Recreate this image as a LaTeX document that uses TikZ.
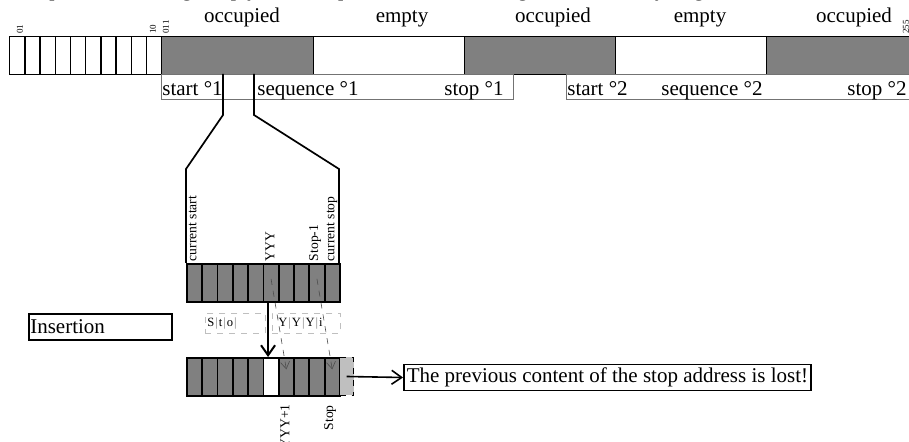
\documentclass[tikz,border=0pt]{standalone}
\usepackage{fontspec}
\setmainfont{Liberation Serif}
\usepackage{xcolor}
\usepackage{tikz}
\usetikzlibrary{calc, positioning, arrows.meta}
\tikzset{every node/.append style={font=\fontsize{10.5}{12}\selectfont}}
\tikzset{
  stripcell/.style={draw, line width=0.7pt, fill=white, minimum width=7.6pt, minimum height=19pt, inner sep=0pt, anchor=north west},
  segment/.style={draw, line width=0.7pt, minimum width=75.75pt, minimum height=19pt, inner sep=0pt, anchor=north west},
  seqbox/.style={draw=black!55, line width=0.5pt, minimum height=12.5pt, inner sep=0pt, anchor=north west},
  rowcell/.style={draw, line width=0.9pt, fill=gray, minimum width=7.65pt, minimum height=19pt, inner sep=0pt, anchor=north west},
  tag/.style={rotate=90, inner sep=0pt, font=\fontsize{6.8}{7}\selectfont},
  addr/.style={rotate=90, inner sep=0pt, anchor=west, font=\fontsize{4.5}{5}\selectfont},
  strbox/.style={draw=gray!50, dashed, line width=0.3pt, anchor=north west, inner xsep=1pt, inner ysep=0pt, minimum height=10pt, align=left, font=\fontsize{6.3}{7}\selectfont},
  notebox/.style={draw, line width=0.8pt, inner ysep=0pt, minimum height=13pt},
  funnel/.style={line width=0.85pt},
}
\newcommand{\strsep}{\textcolor{gray}{\hspace{0.5pt}|\hspace{0.5pt}}}

\begin{document}
\begin{tikzpicture}[x=0.5pt, y=-0.5pt, >={Straight Barb[length=5pt, width=7pt]}]
    \useasboundingbox (0,0) rectangle (909,442);
    \begin{scope}
        \clip (0,0) rectangle (909,442);
        \node[anchor=base west, inner sep=0pt] (heading) at (0,-3) {Example of the sorting: empty and occupied cells of the storage in the memory ring};
    \end{scope}

    \foreach \i in {0,...,9}
        \node[stripcell] (m\i) at ({9+15.2*\i},36) {};
    \foreach \n/\x/\c in {s1/161/gray, e1/312.5/white, s2/464/gray, e2/615/white, s3/766/gray}
        \node[segment, fill=\c] (\n) at (\x,36) {};

    \node[anchor=base] (occ1) at (242,23) {occupied};
    \node[anchor=base] (emp1) at (402,22.5) {empty};
    \node[anchor=base] (occ2) at (553,23) {occupied};
    \node[anchor=base] (emp2) at (700,22.5) {empty};
    \node[anchor=base] (occ3) at (854,23) {occupied};

    \node[addr] (a01) at (20,34) {01};
    \node[addr] (a10) at (153,34) {10};
    \node[addr] (a11) at (166,34) {011};
    \node[addr] (a255) at (906,34) {255};

    \node[seqbox, minimum width=176pt] (seq1) at (161,74) {};
    \node[seqbox, minimum width=173pt] (seq2) at (566,74) {};
    \node[anchor=base west, inner sep=0pt] (start1) at (162,95.5) {start °1};
    \node[anchor=base west, inner sep=0pt] (seqn1) at (257,95.5) {sequence °1};
    \node[anchor=base east, inner sep=0pt] (stop1) at (504,95.5) {stop °1};
    \node[anchor=base west, inner sep=0pt] (start2) at (567,95.5) {start °2};
    \node[anchor=base west, inner sep=0pt] (seqn2) at (661,95.5) {sequence °2};
    \node[anchor=base east, inner sep=0pt] (stop2) at (907,95.5) {stop °2};

    \coordinate (fl0) at (223,74);
    \coordinate (fl1) at (223,115);
    \coordinate (fl2) at (186,169);
    \coordinate (fl3) at (186,263);
    \coordinate (fr0) at (254,74);
    \coordinate (fr1) at (254,115);
    \coordinate (fr2) at (339,169);
    \coordinate (fr3) at (339,263);
    \draw[funnel] (fl0) -- (fl1) -- (fl2) -- (fl3);
    \draw[funnel] (fr0) -- (fr1) -- (fr2) -- (fr3);

    \foreach \i in {0,...,9}
        \node[rowcell] (r\i) at ({186+15.3*\i},263) {};
    \foreach \i in {0,...,9} {
        \ifnum\i=5 \def\c{white}\else\def\c{gray}\fi
        \node[rowcell, fill=\c] (q\i) at ({186+15.3*\i},357) {};
    }
    \node[rowcell, fill=gray!50, dashed, line width=0.5pt, minimum width=7.15pt] (qx) at (339,357) {};

    \node[tag, anchor=west] (cstart) at (192.5,261.5) {current start};
    \node[tag, anchor=west] (yyy) at (270,261.5) {YYY};
    \node[tag, anchor=west] (stopm) at (315,261.5) {Stop-1};
    \node[tag, anchor=west] (cstop) at (332,261.5) {current stop};
    \node[tag, anchor=east] (yyyp) at (285,404) {YYY+1};
    \node[tag, anchor=east] (stopq) at (330,405) {Stop};

    \node[notebox, anchor=north west, text width=70pt, inner xsep=0.75pt, align=left] (ins) at (28,313) {Insertion};
    \node[strbox, text width=28pt] (str1) at (205,313) {S\strsep t\strsep o\strsep};
    \node[strbox, text width=32pt] (str2) at (272,313) {\hspace{2pt}Y\strsep Y\strsep Y\strsep i};

    \draw[->, line width=1pt] ([xshift=-1.5pt]r5.south) -- ([xshift=-1.5pt]q5.north);
    \draw[->, dashed, line width=0.3pt, black!70, >={Straight Barb[length=3.5pt, width=4.5pt]}] ([yshift=2pt]r5.center) -- ([yshift=3.75pt]q6.center);
    \draw[->, dashed, line width=0.3pt, black!70, >={Straight Barb[length=3.5pt, width=4.5pt]}] ([yshift=2pt]r8.center) -- ([yshift=3.75pt]q9.center);

    \node[notebox, anchor=west, inner xsep=1.5pt] (lost) at (403,377.5) {The previous content of the stop address is lost!};
    \draw[->, line width=0.8pt] (qx.center) -- (lost.west);
\end{tikzpicture}
\end{document}
